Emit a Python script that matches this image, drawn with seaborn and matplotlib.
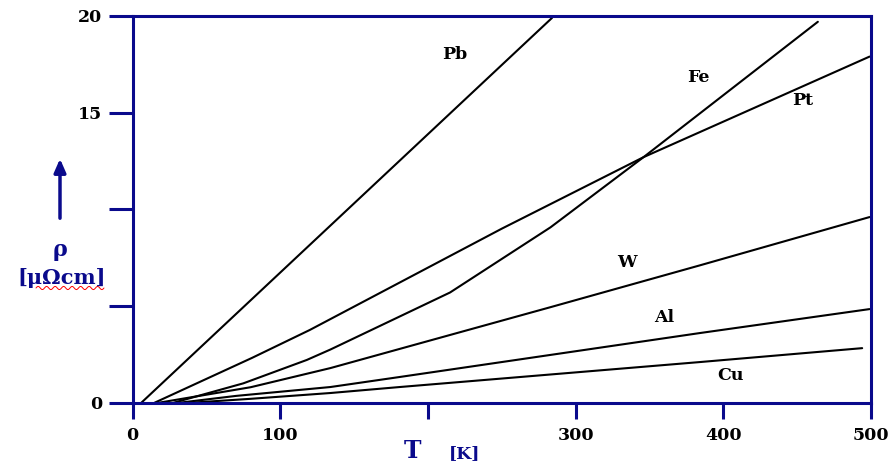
import numpy as np
import pandas as pd
import matplotlib
matplotlib.use("Agg")
import matplotlib.pyplot as plt
import seaborn as sns

# ── data ─────────────────────────────────────────────────────────────────────
metals = ["Pb", "Fe", "Pt", "W", "Al", "Cu"]

pb_T   = [6, 284]
pb_rho = [0.0, 19.9]

fe_T   = [28, 75, 118, 134, 215, 283, 346, 464]
fe_rho = [0.0, 1.0, 2.21, 2.75, 5.7, 9.07, 12.7, 19.7]

pt_T   = [15, 81, 120, 250, 346, 499]
pt_rho = [0.0, 2.32, 3.76, 9.0, 12.7, 17.9]

w_T    = [18, 80, 134, 283, 384, 499]
w_rho  = [0.0, 0.8, 1.79, 4.94, 7.1, 9.6]

al_T   = [32, 70, 134, 181, 384, 499]
al_rho = [0.0, 0.35, 0.81, 1.33, 3.6, 4.84]

cu_T   = [40, 80, 134, 181, 384, 494]
cu_rho = [0.0, 0.2, 0.50, 0.81, 2.1, 2.82]

label_T   = [218, 383, 454, 335, 360, 405]
label_rho = [18.0, 16.8, 15.65, 7.27, 4.38, 1.38]

y_ticks  = [0, 5, 10, 15, 20]
y_labels = ["0", "", "", "15", "20"]
x_ticks  = [0, 100, 200, 300, 400, 500]
x_labels = ["0", "100", "", "300", "400", "500"]   # "200" sits under the T label

series = {"Pb": (pb_T, pb_rho), "Fe": (fe_T, fe_rho), "Pt": (pt_T, pt_rho),
          "W": (w_T, w_rho), "Al": (al_T, al_rho), "Cu": (cu_T, cu_rho)}
df = pd.concat([pd.DataFrame({"T": t, "rho": r, "metal": m})
                for m, (t, r) in series.items()], ignore_index=True)

# ── style ────────────────────────────────────────────────────────────────────
NAVY = "#0a0a8c"
sns.set_style("white")
plt.rcParams["font.family"] = ["DejaVu Serif"]
plt.rcParams["font.weight"] = "bold"
plt.rcParams["text.color"] = "black"

fig = plt.figure(figsize=(8.93, 4.62), dpi=100)
ax = fig.add_axes([0.1484, 0.1284, 0.8270, 0.8370])

sns.lineplot(data=df, x="T", y="rho", hue="metal", units="metal",
             estimator=None, sort=False, palette=["black"] * len(metals),
             linewidth=1.5, legend=False, ax=ax)

ax.set_xlim(0, 500)
ax.set_ylim(0, 20)
ax.set_xticks(x_ticks)
ax.set_xticklabels(x_labels)
ax.set_yticks(y_ticks)
ax.set_yticklabels(y_labels)
ax.set_xlabel("")
ax.set_ylabel("")
ax.tick_params(axis="y", left=True, direction="out", length=17, width=2.2,
               color=NAVY, labelsize=12.5, pad=5, labelcolor="black")
ax.tick_params(axis="x", bottom=True, direction="out", length=11.5, width=2.2,
               color=NAVY, labelsize=12.5, pad=6, labelcolor="black")
for s in ax.spines.values():
    s.set_color(NAVY)
    s.set_linewidth(2.2)

for m, t, r in zip(metals, label_T, label_rho):
    ax.text(t, r, m, fontsize=12.5, fontweight="bold", color="black",
            ha="center", va="center")

# axis labels
fig.text(60 / 893, 1 - 250 / 462, "ρ", color=NAVY, fontsize=16,
         fontweight="bold", ha="center", va="center")
fig.text(62 / 893, 1 - 278 / 462, "[μΩcm]", color=NAVY, fontsize=15,
         fontweight="bold", ha="center", va="center")
wx = np.linspace(36 / 893, 104 / 893, 70)
wy = 1 - 288 / 462 + 0.0035 * np.sin(np.linspace(0, 16 * np.pi, 70))
fig.add_artist(plt.Line2D(wx, wy, color="red", linewidth=0.7,
                          transform=fig.transFigure))
ax.annotate("", xy=(60 / 893, 1 - 156 / 462), xytext=(60 / 893, 1 - 221 / 462),
            xycoords="figure fraction", textcoords="figure fraction",
            arrowprops=dict(arrowstyle="-|>,head_width=0.35,head_length=0.8",
                            color=NAVY, lw=2.5))

fig.text(413 / 893, 1 - 451 / 462, "T", color=NAVY, fontsize=17,
         fontweight="bold", ha="center", va="center")
fig.text(465 / 893, 1 - 454 / 462, "[K]", color=NAVY, fontsize=12.5,
         fontweight="bold", ha="center", va="center")

fig.savefig("out.png", dpi=100, facecolor="white")
